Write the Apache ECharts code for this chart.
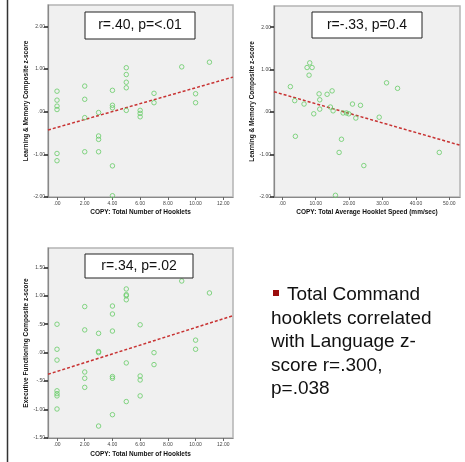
<!DOCTYPE html>
<html><head><meta charset="utf-8">
<script src="https://cdn.jsdelivr.net/npm/echarts@6/dist/echarts.min.js"></script>
<style>html,body{margin:0;padding:0;background:#fff}#c{width:465px;height:462px}</style>
</head><body><div id="c"></div>
<script>
// Plot 1: COPY Total Number of Hooklets vs Learning & Memory z-score
const p1X = [0,0,0,0,0,0, 2,2,2,2, 3,3,3,3, 4,4,4,4,4, 5,5,5,5,5, 6,6,6, 7,7, 9, 10,10, 11];
const p1Y = [0.48,0.27,0.13,0.05,-0.98,-1.15, 0.60,0.29,-0.14,-0.94, -0.02,-0.57,-0.65,-0.94, 0.50,0.15,0.09,-1.27,-1.97, 1.03,0.87,0.69,0.56,0.03, 0.03,-0.04,-0.12, 0.43,0.21, 1.05, 0.42,0.21, 1.16];
const p1Trend = [[-0.65,-0.43],[12.7,0.81]];
// Plot 2: COPY Total Average Hooklet Speed vs Learning & Memory z-score
const p2X = [2.4,3.7,3.9,6.5,7.4,8.2,8.9,8.0,9.4,11,11.2,11.2,13.4,14.9,14.4,15.2,15.9,17,17.7,18.2,19.2,19.9,21,22,23.4,24.4,29,31.2,34.5,47];
const p2Y = [0.60,0.27,-0.57,0.19,1.05,1.16,1.05,0.87,-0.04,0.43,0.29,0.07,0.42,0.50,0.12,0.03,-1.96,-0.95,-0.64,-0.02,-0.02,-0.04,0.19,-0.14,0.16,-1.26,-0.12,0.69,0.56,-0.95];
const p2Trend = [[-2.5,0.48],[53.2,-0.78]];
// Plot 3: COPY Total Number of Hooklets vs Executive Functioning z-score
const p3X = [0,0,0,0,0,0,0, 2,2,2,2,2, 3,3,3,3, 4,4,4,4,4,4, 5,5,5,5,5,5, 6,6,6,6, 7,7, 9, 10,10, 11];
const p3Y = [0.50,0.06,-0.13,-0.67,-0.72,-0.76,-0.99, 0.81,0.40,-0.34,-0.45,-0.61, 0.34,0.00,0.02,-1.29, 0.82,0.68,0.38,-0.42,-0.45,-1.09, 1.12,1.02,1.00,0.93,-0.18,-0.86, 0.49,-0.41,-0.48,-0.76, 0.00,-0.21, 1.26, 0.22,0.06, 1.05];
const p3Trend = [[-0.65,-0.38],[12.7,0.65]];
// Tick values
const xTicksCount = [0,2,4,6,8,10,12];
const xTicksSpeed = [0,10,20,30,40,50];
const yTicksLM = [-2,-1,0,1,2];
const yTicksEF = [-1.5,-1,-0.5,0,0.5,1,1.5];
// Texts
const xNames = ['COPY: Total Number of Hooklets','COPY: Total Average Hooklet Speed (mm/sec)','COPY: Total Number of Hooklets'];
const yNames = ['Learning & Memory Composite z-score','Learning & Memory Composite z-score','Executive Functioning Composite z-score'];
const statLabels = ['r=.40, p=<.01','r=-.33, p=0.4','r=.34, p=.02'];
const noteLines = ['Total Command','hooklets correlated','with Language z-','score r=.300,','p=.038'];

const zip = (xs, ys) => xs.map((x, i) => [x, ys[i]]);
function fmt(v) {
  let s = Math.abs(v).toFixed(2);
  if (s.startsWith('0')) s = s.slice(1);
  return (v < 0 ? '-' : '') + s;
}
const FONT = 'Liberation Sans, Arial, sans-serif';
function xAx(gi, min, max, ticks, name, gap) {
  return {type:'value', gridIndex:gi, min, max, name, nameLocation:'middle', nameGap:gap,
    nameTextStyle:{fontSize:6.5, fontWeight:'bold', color:'#111', fontFamily:FONT},
    axisLine:{show:true, onZero:false, lineStyle:{color:'#888', width:1}},
    axisTick:{show:true, customValues:ticks, length:3, lineStyle:{color:'#666', width:1}},
    axisLabel:{customValues:ticks, formatter:fmt, fontSize:5, color:'#444', margin:4, fontFamily:FONT},
    splitLine:{show:false}};
}
function yAx(gi, min, max, ticks, name, gap) {
  return {type:'value', gridIndex:gi, min, max, name, nameLocation:'middle', nameGap:gap,
    nameTextStyle:{fontSize:6.5, fontWeight:'bold', color:'#111', fontFamily:FONT},
    axisLine:{show:true, onZero:false, lineStyle:{color:'#888', width:1.2}},
    axisTick:{show:true, customValues:ticks, length:4, lineStyle:{color:'#222', width:1.5}},
    axisLabel:{customValues:ticks, formatter:fmt, fontSize:5, color:'#444', margin:3, fontFamily:FONT},
    splitLine:{show:false}};
}
function scat(i, data) {
  return {type:'scatter', xAxisIndex:i, yAxisIndex:i, data, symbol:'circle', symbolSize:4.5,
    itemStyle:{color:'rgba(0,0,0,0)', borderColor:'#66cc66', borderWidth:1}, z:3};
}
function trend(i, data) {
  return {type:'line', xAxisIndex:i, yAxisIndex:i, data, showSymbol:false, symbol:'none',
    lineStyle:{color:'#c83232', width:1.5, type:[3,2]}, z:2, silent:true};
}
function box(x, y, w, h, text) {
  return {type:'group', children:[
    {type:'rect', shape:{x, y, width:w, height:h}, style:{fill:'#fff', stroke:'#222', lineWidth:1}, z:10},
    {type:'text', x:x + w/2, y:y + h/2, style:{text, font:'14px ' + FONT, fill:'#111', align:'center', verticalAlign:'middle'}, z:11}
  ]};
}
const gridStyle = {show:true, backgroundColor:'#f0f0f0', borderColor:'#b4b4b4', borderWidth:1.5};
const noteY = [295, 318.5, 342, 365.5, 389];
const option = {
  animation:false,
  grid:[
    Object.assign({left:48, top:5, width:185, height:192}, gridStyle),
    Object.assign({left:274, top:6, width:186, height:191}, gridStyle),
    Object.assign({left:48, top:248, width:185, height:190}, gridStyle)
  ],
  xAxis:[
    xAx(0, -0.65, 12.7, xTicksCount, xNames[0], 12),
    xAx(1, -2.5, 53.2, xTicksSpeed, xNames[1], 12),
    xAx(2, -0.65, 12.7, xTicksCount, xNames[2], 13)
  ],
  yAxis:[
    yAx(0, -2, 2.5, yTicksLM, yNames[0], 18),
    yAx(1, -2, 2.5, yTicksLM, yNames[1], 18),
    yAx(2, -1.5, 1.84, yTicksEF, yNames[2], 18)
  ],
  series:[
    trend(0, p1Trend), scat(0, zip(p1X, p1Y)),
    trend(1, p2Trend), scat(1, zip(p2X, p2Y)),
    trend(2, p3Trend), scat(2, zip(p3X, p3Y))
  ],
  graphic:[
    {type:'line', shape:{x1:7.5, y1:0, x2:7.5, y2:462}, style:{stroke:'#333', lineWidth:1.5}},
    box(85, 12, 110, 27, statLabels[0]),
    box(312, 12, 110, 26, statLabels[1]),
    box(85, 254, 108, 24, statLabels[2]),
    {type:'rect', shape:{x:273, y:290, width:6, height:6}, style:{fill:'#9b0d0d'}},
    ...noteLines.map((t, i) => ({type:'text', x: i === 0 ? 287 : 271, y: noteY[i],
      style:{text:t, font:'19px ' + FONT, fill:'#111', align:'left', verticalAlign:'middle'}}))
  ]
};
const chart = echarts.init(document.getElementById('c'), null, {renderer:'canvas'});
chart.setOption(option);
</script></body></html>
